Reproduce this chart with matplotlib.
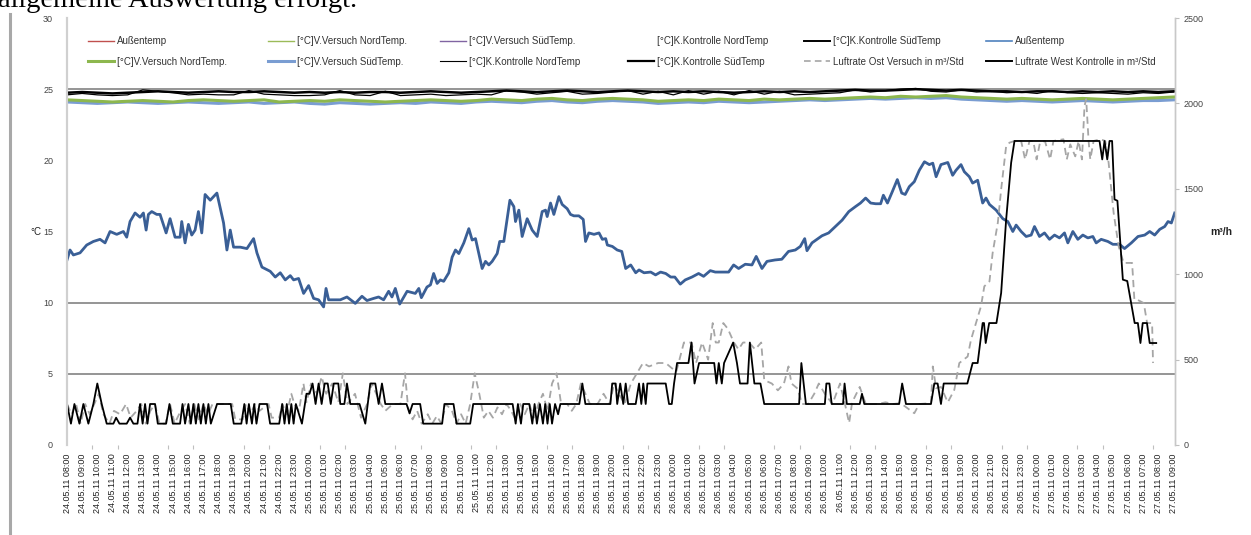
import matplotlib
matplotlib.use("Agg")
import matplotlib.pyplot as plt
from matplotlib.lines import Line2D
from matplotlib.ticker import MultipleLocator, FixedLocator
import pandas as pd

plt.rcParams['font.family'] = ['Liberation Sans', 'DejaVu Sans']

# ---------------- data ----------------
hour_labels = [t.strftime('%d.%m.%y %H:%M')
               for t in pd.date_range('2011-05-24 08:00', periods=74, freq='h')]
hours = list(range(74))

# Außentemp (°C), read as (hour, value) vertices
aussen_h = [0.0, 0.2, 0.42, 0.86, 1.3, 1.74, 2.18, 2.51, 2.84, 3.28, 3.72, 3.94, 4.16, 4.49, 4.82, 5.04,
            5.22, 5.37, 5.59, 5.92, 6.14, 6.54, 6.80, 7.13, 7.46, 7.57, 7.79, 8.01, 8.23, 8.45, 8.67, 8.89,
            9.11, 9.45, 9.89, 10.33, 10.55, 10.77, 10.99, 11.43, 11.87, 12.31, 12.53, 12.86, 13.41, 13.74,
            14.07, 14.40, 14.73, 14.95, 15.28, 15.61, 15.94, 16.27, 16.60, 16.93, 17.09, 17.26, 17.81,
            18.03, 18.47, 19.02, 19.46, 19.79, 20.23, 20.56, 20.89, 21.22, 21.44, 21.66, 21.95, 22.44,
            22.98, 23.21, 23.38, 23.75, 23.98, 24.19, 24.42, 24.63, 24.85, 25.19, 25.41, 25.63, 25.85,
            26.18, 26.51, 26.73, 26.95, 27.39, 27.61, 27.83, 28.05, 28.38, 28.55, 28.82, 29.22, 29.48,
            29.59, 29.81, 30.03, 30.36, 30.69, 31.02, 31.35, 31.57, 31.68, 31.90, 32.12, 32.45, 32.67,
            33.00, 33.22, 33.44, 33.77, 34.06, 34.21, 34.43, 34.77, 35.10, 35.32, 35.54, 35.65, 35.98,
            36.30, 36.6, 36.86, 37.19, 37.52, 37.74, 38.07, 38.51, 38.83, 39.16, 39.50, 39.83, 40.1,
            40.46, 40.79, 41.23, 41.67, 42.00, 42.44, 42.77, 43.21, 43.65, 43.98, 44.31, 44.75, 45.19,
            45.47, 45.85, 46.18, 46.71, 47.16, 47.60, 48.05, 48.38, 48.67, 48.82, 49.15, 49.81, 50.25,
            50.70, 51.14, 51.58, 52.02, 52.35, 52.69, 53.02, 53.35, 53.68, 53.86, 54.13, 54.45, 54.78,
            55.07, 55.3, 55.57, 55.90, 56.23, 56.57, 56.89, 57.12, 57.34, 57.66, 58.11, 58.43, 58.65,
            58.98, 59.20, 59.53, 59.75, 60.08, 60.41, 60.63, 60.86, 61.30, 61.74, 62.07, 62.40, 62.62,
            62.95, 63.28, 63.61, 63.83, 64.16, 64.49, 64.82, 65.15, 65.48, 65.81, 66.03, 66.36, 66.69,
            67.02, 67.35, 67.68, 67.90, 68.23, 68.67, 69.00, 69.44, 69.77, 70.22, 70.66, 71.10, 71.43,
            71.76, 72.09, 72.42, 72.64, 72.86, 73.08]
aussen_t = [13.0, 13.7, 13.35, 13.5, 14.05, 14.3, 14.45, 14.2, 15.0, 14.8, 15.0, 14.6, 15.7, 16.3, 16.0, 16.3,
            15.1, 16.2, 16.4, 16.2, 16.2, 14.9, 15.9, 14.6, 14.6, 15.7, 14.2, 15.5, 14.75, 15.1, 16.4, 14.9,
            17.6, 17.2, 17.7, 15.6, 13.7, 15.1, 13.9, 13.9, 13.8, 14.5, 13.5, 12.5, 12.2, 11.8,
            12.1, 11.6, 11.9, 11.6, 11.7, 10.65, 11.2, 10.3, 10.2, 9.7, 11.0, 10.2, 10.2,
            10.2, 10.4, 9.95, 10.45, 10.15, 10.3, 10.4, 10.2, 10.8, 10.4, 11.0, 9.9, 10.8,
            10.65, 11.0, 10.35, 11.1, 11.25, 12.05, 11.35, 11.6, 11.5, 12.1, 13.2, 13.7, 13.45,
            14.2, 15.2, 14.4, 14.5, 12.4, 12.9, 12.65, 12.9, 13.45, 14.3, 14.3, 17.2, 16.75,
            15.7, 16.5, 14.65, 15.9, 15.1, 14.65, 16.4, 16.5, 16.05, 17.0, 16.2, 17.45, 16.9,
            16.6, 16.2, 16.1, 16.1, 15.85, 14.3, 14.9, 14.8, 14.9, 14.45, 14.5, 14.05, 13.95,
            13.7, 13.6, 12.4, 12.65, 12.1, 12.3, 12.1, 12.15, 11.95, 12.15, 12.05, 11.8, 11.8,
            11.3, 11.6, 11.8, 12.05, 11.85, 12.25, 12.15, 12.15, 12.15, 12.65, 12.4, 12.7, 12.65,
            13.25, 12.4, 12.9, 13.0, 13.05, 13.6, 13.7, 13.95, 14.5, 13.65, 14.2, 14.7, 14.9,
            15.35, 15.8, 16.4, 16.75, 17.0, 17.35, 17.0, 16.95, 16.95, 17.55, 17.0, 17.8, 18.65,
            17.7, 17.6, 18.15, 18.5, 19.3, 19.9, 19.7, 19.8, 18.85, 19.7, 19.85, 18.95, 19.3,
            19.7, 19.2, 18.85, 18.4, 18.6, 17.0, 17.35, 16.9, 16.5, 15.9, 15.7, 15.0, 15.45,
            15.0, 14.65, 14.75, 15.35, 14.65, 14.9, 14.45, 14.75, 14.55, 14.9, 14.2, 15.0, 14.45,
            14.75, 14.55, 14.65, 14.2, 14.45, 14.3, 14.1, 14.1, 13.8, 14.2, 14.65, 14.75, 15.0,
            14.75, 15.15, 15.35, 15.7, 15.6, 16.3]

# Hourly greenhouse temperatures (°C)
v_nord = [24.25, 24.2, 24.15, 24.1, 24.15, 24.2, 24.15, 24.1, 24.2, 24.25,
          24.2, 24.15, 24.2, 24.25, 24.1, 24.15, 24.2, 24.15, 24.25, 24.2,
          24.15, 24.1, 24.15, 24.2, 24.25, 24.2, 24.15, 24.2, 24.3, 24.25,
          24.2, 24.3, 24.35, 24.25, 24.2, 24.3, 24.35, 24.3, 24.25, 24.15,
          24.2, 24.25, 24.2, 24.3, 24.25, 24.2, 24.3, 24.25, 24.3, 24.35,
          24.3, 24.35, 24.4, 24.45, 24.4, 24.5, 24.45, 24.5, 24.55, 24.45,
          24.4, 24.35, 24.3, 24.35, 24.3, 24.25, 24.3, 24.35, 24.3, 24.25,
          24.3, 24.35, 24.4, 24.45]
v_sued = [24.1, 24.05, 24.0, 24.05, 24.1, 24.05, 24.0, 24.05, 24.1, 24.05,
          24.0, 24.05, 24.1, 24.0, 24.05, 24.1, 24.0, 23.95, 24.05, 24.0,
          23.95, 24.0, 24.05, 24.0, 24.1, 24.05, 24.0, 24.1, 24.15, 24.1,
          24.05, 24.15, 24.2, 24.1, 24.05, 24.15, 24.2, 24.15, 24.1, 24.0,
          24.05, 24.1, 24.05, 24.15, 24.1, 24.05, 24.1, 24.15, 24.2, 24.25,
          24.2, 24.25, 24.3, 24.35, 24.3, 24.35, 24.4, 24.35, 24.4, 24.3,
          24.25, 24.2, 24.15, 24.2, 24.15, 24.1, 24.15, 24.2, 24.15, 24.1,
          24.15, 24.2, 24.2, 24.25]
k_nord = [24.6, 24.7, 24.6, 24.55, 24.6, 24.95, 24.85, 24.75, 24.6, 24.65,
          24.6, 24.6, 24.9, 24.65, 24.6, 24.55, 24.55, 24.6, 24.9, 24.6,
          24.55, 24.85, 24.55, 24.6, 24.65, 24.55, 24.6, 24.65, 24.6, 24.9,
          24.8, 24.65, 24.75, 24.85, 24.65, 24.7, 24.8, 24.9, 24.65, 24.85,
          24.6, 24.9, 24.65, 24.85, 24.6, 24.9, 24.65, 24.85, 24.6, 24.65,
          24.7, 24.75, 24.95, 24.8, 24.9, 25.0, 25.05, 24.85, 24.8, 24.95,
          24.8, 24.85, 24.75, 24.8, 24.7, 24.9, 24.75, 24.7, 24.75, 24.7,
          24.65, 24.75, 24.7, 24.8]
k_sued = [24.75, 24.8, 24.75, 24.7, 24.75, 24.8, 24.85, 24.8, 24.75, 24.8,
          24.85, 24.8, 24.8, 24.85, 24.8, 24.75, 24.8, 24.75, 24.8, 24.75,
          24.8, 24.8, 24.75, 24.8, 24.85, 24.8, 24.75, 24.8, 24.85, 24.9,
          24.85, 24.8, 24.85, 24.9, 24.85, 24.8, 24.85, 24.9, 24.85, 24.8,
          24.85, 24.8, 24.85, 24.8, 24.75, 24.8, 24.85, 24.8, 24.85, 24.8,
          24.85, 24.9, 24.95, 24.9, 24.9, 24.95, 25.0, 24.95, 24.9, 24.95,
          24.9, 24.85, 24.85, 24.8, 24.85, 24.85, 24.8, 24.85, 24.8, 24.85,
          24.8, 24.85, 24.8, 24.85]

# Luftrate West Kontrolle (m³/h), vertices
west_h = [0.0, 0.26, 0.49, 0.82, 1.08, 1.41, 1.74, 2.0, 2.29, 2.62, 3.06, 3.24, 3.46, 3.94, 4.16, 4.38,
          4.65, 4.82, 4.99, 5.15, 5.31, 5.48, 5.81, 5.99, 6.54, 6.76, 6.98, 7.46, 7.62, 7.79, 8.01, 8.17,
          8.34, 8.5, 8.67, 8.83, 9.0, 9.16, 9.33, 9.49, 9.9, 10.8, 11.0, 11.5, 11.7, 11.85, 12.0, 12.2,
          12.35, 12.5, 12.7, 13.2, 13.4, 14.0, 14.2, 14.35, 14.5, 14.65, 14.8, 14.95, 15.1, 15.5, 15.8,
          16.0, 16.2, 16.4, 16.6, 16.8, 17.0, 17.2, 17.4, 17.6, 17.9, 18.03, 18.3, 18.47, 18.69, 19.3,
          19.68, 20.01, 20.34, 20.56, 20.78, 21.0, 22.4, 22.6, 22.8, 23.3, 23.5, 24.75, 24.9, 25.5,
          25.7, 26.6, 26.8, 29.4, 29.6, 29.75, 29.95, 30.1, 30.5, 30.7, 30.85, 31.0, 31.2, 31.4,
          31.55, 31.7, 31.85, 32.0, 32.2, 32.4, 32.55, 33.8, 34.0, 34.2, 35.85, 35.97, 36.2, 36.3,
          36.5, 36.7, 36.86, 37.02, 37.52, 37.74, 37.89, 38.02, 38.18, 38.29, 39.5, 39.72, 39.9,
          40.05, 40.25, 41.0, 41.2, 41.4, 41.7, 42.7, 42.85, 43.0, 43.2, 43.35, 43.95, 44.2, 44.4,
          44.9, 45.05, 45.35, 45.75, 46.0, 48.3, 48.45, 48.75, 50.0, 50.1, 50.3, 50.45, 51.2, 51.3,
          51.45, 52.3, 52.45, 52.6, 54.9, 55.1, 55.35, 57.0, 57.22, 57.44, 57.66, 57.84, 59.4, 59.75,
          60.08, 60.41, 60.5, 60.61, 60.84, 61.32, 61.63, 61.96, 62.29, 62.51, 68.12, 68.3, 68.45,
          68.63, 68.78, 68.95, 69.11, 69.3, 69.66, 69.95, 70.44, 70.65, 70.82, 70.97, 71.25, 71.43,
          71.86]
west_v = [240, 125, 240, 125, 240, 125, 240, 360, 240, 125, 125, 160, 125, 125, 160, 125,
          125, 240, 125, 240, 125, 240, 240, 125, 125, 240, 125, 125, 240, 125, 240, 125,
          240, 125, 240, 125, 240, 125, 240, 125, 240, 240, 125, 125, 240, 125, 240, 125,
          240, 125, 240, 240, 125, 125, 240, 125, 240, 125, 240, 125, 240, 125, 300,
          300, 360, 240, 360, 240, 360, 360, 240, 360, 360, 240, 240, 360, 240, 240,
          125, 360, 360, 240, 360, 240, 240, 185, 240, 240, 125, 125, 240, 240,
          125, 125, 240, 240, 125, 240, 125, 240, 240, 125, 240, 125, 240, 125,
          240, 125, 240, 125, 240, 180, 240, 240, 360, 240, 240, 360, 360, 240,
          360, 240, 360, 240, 240, 360, 240, 360, 240, 360, 360, 240, 240,
          360, 480, 480, 600, 360, 480, 480, 360, 480, 360, 480, 600, 480, 360,
          360, 600, 360, 360, 240, 240, 480, 240, 240, 360, 360, 240, 240, 360,
          240, 240, 300, 240, 240, 360, 240, 240, 360, 360, 240, 360, 360, 480,
          480, 714, 714, 597, 714, 714, 890, 1320, 1653, 1780, 1780, 1672, 1780,
          1672, 1780, 1780, 1438, 1430, 968, 960, 714, 714, 597, 714, 714, 597,
          597]

# Luftrate Ost Versuch (m³/h), vertices
ost_h = [0.0, 0.3, 0.6, 0.9, 1.2, 1.5, 1.8, 2.1, 2.4, 2.8, 3.1, 3.5, 3.9, 4.2, 4.6, 4.9, 5.2, 5.5, 5.8,
         6.1, 6.5, 6.8, 7.1, 7.5, 7.8, 8.1, 8.4, 8.7, 9.0, 9.3, 9.6, 10.9, 11.1, 11.6, 11.8, 12.1, 12.4,
         12.7, 13.3, 13.5, 14.0, 14.2, 14.5, 14.8, 15.0, 15.3, 15.6, 15.8, 16.1, 16.5, 16.8, 17.1, 17.5,
         17.9, 18.2, 18.5, 19.0, 19.4, 19.8, 20.1, 20.4, 20.7, 21.0, 21.5, 22.0, 22.3, 22.5, 22.8, 23.1,
         23.4, 23.8, 24.1, 24.4, 24.7, 25.0, 25.4, 25.7, 26.0, 26.3, 26.6, 26.9, 27.2, 27.5, 27.8, 28.1,
         28.4, 28.7, 29.0, 29.3, 29.6, 29.9, 30.2, 30.5, 30.8, 31.1, 31.4, 31.7, 32.0, 32.3, 32.6, 33.0,
         33.3, 33.6, 33.9, 34.2, 34.5, 35.0, 35.4, 35.8, 36.1, 36.4, 36.8, 37.2, 37.6, 38.0, 38.4, 39.0,
         39.5, 39.9, 40.2, 40.7, 41.2, 41.5, 41.9, 42.3, 42.6, 42.8, 43.0, 43.3, 43.6, 44.0, 44.3, 44.6,
         45.0, 45.4, 45.8, 46.0, 46.5, 46.9, 47.3, 47.6, 47.8, 48.2, 48.5, 48.9, 49.3, 49.6, 50.0, 50.5,
         51.0, 51.3, 51.6, 51.8, 52.3, 52.7, 53.5, 54.0, 54.5, 55.0, 55.9, 56.23, 57.0, 57.12, 57.34,
         57.66, 58.11, 58.54, 58.87, 59.42, 59.64, 59.97, 60.3, 60.52, 60.86, 61.07, 61.41, 61.63,
         61.96, 62.18, 62.51, 62.95, 63.21, 63.5, 63.75, 63.97, 64.19, 64.52, 64.86, 65.08, 65.74,
         65.96, 66.19, 66.52, 66.74, 66.96, 67.13, 67.24, 67.4, 67.51, 67.73, 68.17, 68.5, 68.72,
         69.05, 69.38, 69.71, 70.27, 70.42, 70.6, 71.04, 71.26, 71.59, 71.65]
ost_v = [240, 180, 240, 125, 240, 180, 240, 300, 180, 125, 200, 180, 240, 160, 200, 240, 125, 200, 240,
         125, 125, 240, 125, 200, 240, 125, 240, 150, 240, 180, 240, 240, 150, 150, 240, 180, 240,
         200, 240, 160, 160, 240, 180, 300, 240, 200, 360, 250, 360, 300, 400, 300, 360,
         250, 420, 240, 300, 160, 240, 360, 300, 240, 200, 240, 240, 420, 220, 150, 200,
         125, 180, 125, 170, 125, 240, 200, 125, 180, 125, 240, 420, 300, 160, 200, 160,
         220, 180, 240, 200, 150, 240, 180, 240, 160, 240, 300, 200, 360, 420, 240, 240,
         200, 240, 360, 300, 240, 240, 300, 240, 360, 300, 240, 360, 420, 480, 460, 480,
         480, 450, 430, 600, 600, 480, 600, 500, 714, 600, 600, 714, 680, 600, 560, 600,
         600, 560, 600, 380, 360, 320, 360, 460, 360, 330, 240, 240, 300, 360, 300, 240,
         360, 250, 129, 250, 340, 240, 240, 250, 240, 245, 186, 240, 245, 460, 333,
         340, 250, 323, 480, 518, 616, 714, 812, 929, 958, 1125, 1301, 1496,
         1750, 1770, 1780, 1780, 1672, 1780, 1780, 1672, 1770, 1780, 1672, 1780, 1790,
         1672, 1760, 1690, 1780, 1672, 1985, 2025, 1780, 1672, 1780, 1790, 1780, 1653,
         1360, 1164, 1066, 1066, 851, 851, 831, 714, 714, 480]

left_ticks = [0, 5, 10, 15, 20, 25, 30]
right_ticks = [0, 500, 1000, 1500, 2000, 2500]
ref_lines = [5, 10, 25]

# ---------------- figure ----------------
W, H = 1251, 535
fig = plt.figure(figsize=(W / 100, H / 100), dpi=100)
ax = fig.add_axes([67 / W, 1 - 445 / H, (1175 - 67) / W, (445 - 18) / H])
ax2 = ax.twinx()

c_out = '#3A5F96'
c_green = '#8DB74E'
c_lblue = '#7A9DD2'
c_grey = '#A6A6A6'

for v in ref_lines:
    ax.axhline(v, color='#8C8C8C', lw=1.3, zorder=1)

ax.plot(aussen_h, aussen_t, color=c_out, lw=2.0, zorder=3)
ax.plot(hours, v_sued, color=c_lblue, lw=2.2, zorder=3)
ax.plot(hours, v_nord, color=c_green, lw=2.2, zorder=3)
ax.plot(hours, k_sued, color='black', lw=1.8, zorder=3)
ax.plot(hours, k_nord, color='black', lw=0.9, zorder=4)

ax2.plot(ost_h, ost_v, color=c_grey, lw=1.3, linestyle=(0, (4, 2.5)))
ax2.plot(west_h, west_v, color='black', lw=1.3)

ax.set_xlim(0, 73.1)
ax.set_ylim(0, 30)
ax2.set_ylim(0, 2500)
ax.yaxis.set_major_locator(FixedLocator(left_ticks))
ax2.yaxis.set_major_locator(FixedLocator(right_ticks))

ax.set_xticks(hours)
ax.set_xticklabels(hour_labels, rotation=90, fontsize=6.5, color='#222222')
ax.xaxis.set_minor_locator(MultipleLocator(10 / 6))
ax.tick_params(axis='x', which='major', length=0, pad=6)
ax.tick_params(axis='x', which='minor', length=3, color='#BFBFBF', width=0.8)
ax.tick_params(axis='y', length=0, pad=10, labelsize=6.5, labelcolor='#444444')
ax2.tick_params(axis='y', length=3, color='#BFBFBF', pad=3, labelsize=6.5, labelcolor='#444444')

for a in (ax, ax2):
    a.spines['top'].set_visible(False)
    a.spines['bottom'].set_visible(False)
    a.spines['left'].set_color('#D0D0D0')
    a.spines['right'].set_color('#C8C8C8')
    a.spines['left'].set_linewidth(1.5)
    a.spines['right'].set_linewidth(1.0)
    a.patch.set_visible(False)

fig.text(30 / W, 1 - 232 / H, '°C', fontsize=7, va='center', ha='left', color='#222222')
fig.text(1210 / W, 1 - 232 / H, 'm³/h', fontsize=7.5, va='center', ha='left',
         color='#222222', fontweight='bold')

# legend: 6 columns x 2 rows
legend_cols = [
    [('Außentemp', '#C0504D', 1.0, '-'), ('[°C]V.Versuch NordTemp.', c_green, 2.2, '-')],
    [('[°C]V.Versuch NordTemp.', '#9BBB59', 1.0, '-'), ('[°C]V.Versuch SüdTemp.', c_lblue, 2.2, '-')],
    [('[°C]V.Versuch SüdTemp.', '#8064A2', 1.0, '-'), ('[°C]K.Kontrolle NordTemp', 'black', 0.8, '-')],
    [('[°C]K.Kontrolle NordTemp', 'white', 1.0, '-'), ('[°C]K.Kontrolle SüdTemp', 'black', 1.6, '-')],
    [('[°C]K.Kontrolle SüdTemp', 'black', 1.4, '-'), ('Luftrate Ost Versuch in m³/Std', c_grey, 1.2, (0, (4, 2.5)))],
    [('Außentemp', '#4F81BD', 1.2, '-'), ('Luftrate West Kontrolle in m³/Std', 'black', 1.4, '-')],
]
col_x = [88, 268, 440, 628, 804, 986]
for x0, entries in zip(col_x, legend_cols):
    handles = [Line2D([], [], color=c, lw=lw, linestyle=ls) for (_, c, lw, ls) in entries]
    labels = [e[0] for e in entries]
    fig.legend(handles, labels, loc='upper left', bbox_to_anchor=(x0 / W, 1 - 36 / H),
               frameon=False, fontsize=7, handlelength=2.7, handletextpad=0.25,
               borderpad=0, borderaxespad=0, labelspacing=1.12, labelcolor='#333333')

# surrounding page elements
fig.text(-2 / W, 1 - 7 / H, 'allgemeine Auswertung erfolgt.', fontsize=20.5,
         family='Liberation Serif', va='baseline', ha='left', color='black')
fig.add_artist(Line2D([10 / W, 10 / W], [0, 1 - 14 / H], color='#A8A8A8', lw=2.2,
                      transform=fig.transFigure))

fig.savefig('out.png', dpi=100)
